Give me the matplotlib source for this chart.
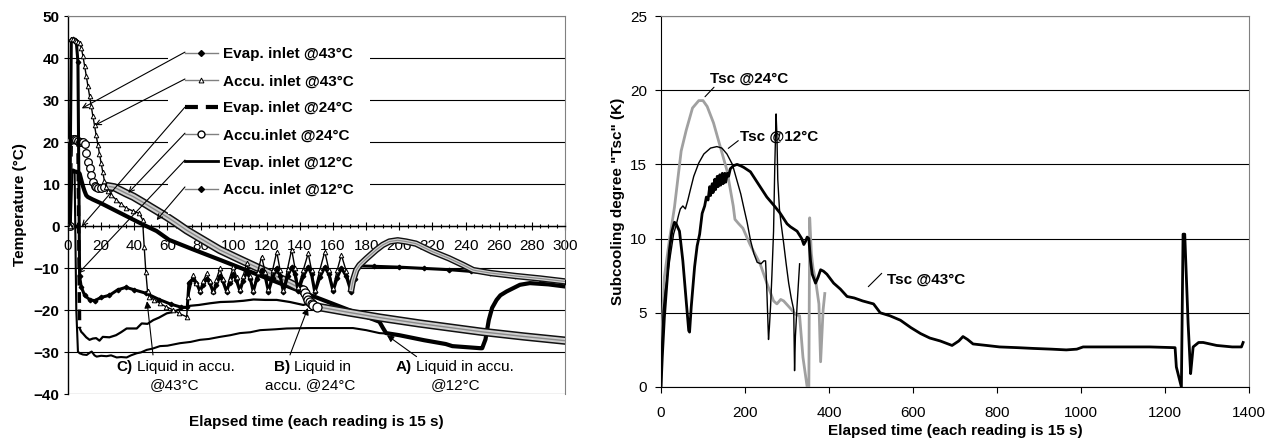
import matplotlib
matplotlib.use('Agg')
import matplotlib.pyplot as plt
from matplotlib.lines import Line2D
from matplotlib.ticker import MultipleLocator
import matplotlib.patheffects as pe

plt.rcParams['font.family'] = ['Liberation Sans', 'DejaVu Sans']
plt.rcParams['font.size'] = 11

# ---------------- left chart data (reading number, temperature °C) ----------------
evap43_t = [1, 2, 3, 4, 5, 6, 7, 8, 10, 13, 16, 20, 25, 30, 35, 40, 47, 55, 62, 68, 72,
            73, 75.6, 77.5, 79.7, 81.5, 83.7, 85.5, 87.7, 89.5, 91.7, 93.5, 95.7, 97.5, 99.8,
            101.5, 103.8, 105.5, 107.8, 110, 111.8, 114, 116.9, 119, 121, 123.5, 126, 128, 130,
            132.5, 135, 137, 139, 142, 145, 147, 149, 152, 155, 157.5, 160, 162.5, 165, 168, 171,
            173, 175, 185, 200, 215, 230, 243, 255, 270, 285, 300]
evap43_T = [0, 44.3, 44.5, 44.3, 44, 39, -12, -14.5, -16.5, -17.5, -17.8, -17, -16.5, -15.2, -14.6, -15.2, -16, -17.5, -18.6, -19.3, -19.4,
            -13.5, -12.5, -13.5, -15.6, -14, -12.5, -13.5, -15.8, -14, -12, -13.2, -15.6, -13.5, -11.5,
            -12.8, -15.5, -13.2, -11, -12.5, -15.6, -12.5, -10.5, -12, -15.6, -12.3, -10, -11.8, -15.7,
            -12, -9.8, -11.5, -15.5, -12, -9.8, -11.5, -15.8, -12.2, -9.8, -11.5, -15.5, -12.3, -10, -12, -15.8,
            -12.5, -9.5, -9.6, -9.8, -10.1, -10.4, -10.8, -11.3, -12, -12.6, -13.3]

accu43_t = [1, 2, 3, 4, 5, 6, 7, 8, 9, 10, 11, 12, 13, 14, 15, 16, 17, 18, 19, 20, 21, 22, 23, 24, 26, 29, 32, 35, 39, 43,
            45, 46, 47, 48, 49, 52, 55.5, 59, 63.6, 67, 71.6,
            72.6, 75.6, 77.5, 79.7, 81.5, 83.7, 85.5, 87.7, 89.5, 91.7, 93.5, 95.7, 97.5, 99.8, 101.8, 103.8,
            105.8, 107.8, 109.8, 111.8, 114.4, 116.9, 119, 121, 123.5, 126, 128, 130, 132.5, 135, 137, 139,
            142, 145, 147, 149, 152, 155, 157.5, 160, 162.5, 165, 168, 171,
            172, 174, 176, 180, 186, 190, 194, 199, 204, 210, 220, 230, 238.6, 244.6, 255, 270, 285, 300]
accu43_T = [0, 44.5, 44.5, 44.2, 44, 43.7, 43.5, 42.5, 40.5, 38.2, 35.8, 33.4, 31, 28.6, 26.2, 24, 21.6, 19.4, 17.2, 15, 12.8, 10.7, 9.2, 8.3, 7.4, 6.3, 5.2, 4.3, 3.6, 3.0,
            1.5, -5, -11, -15.5, -16.8, -17.6, -18.4, -19.2, -20, -20.8, -21.6,
            -17, -11.7, -13.5, -15.2, -13.2, -11.3, -13, -15.4, -12.8, -10.1, -12.5, -15.2, -12.5, -9.7, -12.2, -15,
            -11.8, -8.9, -12, -15.2, -11, -7.3, -11, -15.1, -10.5, -6.1, -10.5, -15.2, -10.2, -5.6, -10, -14.5,
            -10.5, -6.5, -10.5, -15.2, -10.5, -6.1, -10.5, -14.8, -10.5, -6.9, -10.8, -15.1,
            -13, -10.5, -9.3, -7.8, -5.7, -4.5, -3.7, -3.4, -3.7, -4.2, -6.1, -7.7, -9.3, -10.5, -11.2, -11.9, -12.5, -13.2]

evap24_t = [1, 2, 3, 4, 5, 6, 7, 8, 9, 11, 13, 15, 17, 19, 21, 25, 29, 32, 35.4, 41.5, 44.5, 48, 51.5, 55, 59.6,
            63, 67.6, 73.6, 79, 85.7, 92, 99.8, 106, 112, 119, 126, 134, 142, 145, 147, 150, 170, 188, 212, 250, 275, 300]
evap24_T = [0, 20.3, 20.6, 20.4, 20.2, 20, -24.3, -25.2, -25.6, -26.5, -27.1, -26.8, -26.7, -27.3, -26.4, -26.5, -26, -25.3, -24.4, -24.4, -23.2, -23.3, -22.4, -21.8, -20.8,
            -20.5, -19.8, -19, -18.8, -18.4, -18.1, -18, -17.8, -17.5, -17.6, -17.6, -18.1, -18.8, -18.5, -18.5, -19.2, -20.6, -21.8, -23.2, -25.2, -26.3, -27.3]

accu24_t = [1, 2, 3, 4, 5, 6, 7, 8, 9, 10, 11, 12, 13, 14, 15, 16, 17, 18, 20, 22, 25, 28, 31, 35, 39.4, 45, 49.5, 55,
            59.6, 65, 71.6, 79.7, 91.7, 104, 116, 130, 142, 143, 144, 145, 146, 147, 148, 150, 170, 188, 212, 250, 275, 300]
accu24_T = [0, 20.5, 20.7, 20.6, 20.4, 20.2, 20, 20.1, 19.9, 19.6, 17.3, 15.3, 13.7, 12.1, 10.5, 9.6, 9.2, 9, 9, 9.3, 9.4, 9.2, 8.6, 7.8, 7, 5.7, 4.6, 3.3,
            2.2, 0.8, -1, -2.9, -5.7, -8, -10.2, -12.8, -15.2, -16, -16.8, -17.5, -18, -18.5, -18.9, -19.2, -20.6, -21.8, -23.2, -25.2, -26.3, -27.3]

evap12_t = [1, 2, 3, 4, 5, 6, 7, 9, 11.3, 13, 14.3, 16, 17.3, 20, 23.3, 26, 29.4, 32, 35.4, 38, 41.5, 44, 47.5, 51, 55.5,
            60, 67.6, 74, 79.7, 85, 91.7, 98, 103.8, 110, 116, 125, 132, 145, 160, 172, 180, 188, 192,
            200, 215, 228, 232, 249, 250, 252, 254, 256, 258.7, 261, 264.7, 272.8, 278.8, 290, 300]
evap12_T = [0, 13, 13, 12.5, -20, -29.9, -30.3, -30.6, -30.7, -30.2, -29.9, -30.8, -31.1, -30.9, -31, -30.8, -31.3, -31.2, -31.3, -30.8, -30.3, -30.1, -29.5, -29.2, -28.6,
            -28.5, -27.9, -27.6, -27.1, -26.9, -26.4, -26, -25.5, -25.3, -24.8, -24.6, -24.4, -24.3, -24.3, -24.3, -24.8, -25.5, -25.6,
            -26, -27.2, -28.1, -28.6, -29.1, -29.1, -27, -22.4, -19.5, -17.6, -16.5, -15.6, -14, -13.6, -13.9, -14.4]

accu12_t = [1, 2, 3, 4, 5, 6, 7, 8, 9, 10, 11, 12, 15, 20, 25, 35, 45, 53.5, 61, 75, 92, 112, 142, 165, 188, 190, 192,
            200, 215, 228, 232, 249, 250, 252, 254, 256, 258.7, 261, 264.7, 272.8, 278.8, 290, 300]
accu12_T = [0, 13, 13.2, 13, 12.9, 12.8, 12.5, 11, 9.5, 8.3, 7.3, 6.9, 6.3, 5.4, 4.4, 2.4, 0.4, -1.2, -3.3, -5.5, -8.1, -11.2, -15.8, -19.3, -22.8, -24.2, -25.5,
            -26, -27.2, -28.1, -28.6, -29.1, -29.1, -27, -22.4, -19.5, -17.6, -16.5, -15.6, -14, -13.6, -13.9, -14.4]

legend_labels = ['Evap. inlet @43°C', 'Accu. inlet @43°C', 'Evap. inlet @24°C',
                 'Accu.inlet @24°C', 'Evap. inlet @12°C', 'Accu. inlet @12°C']

# ---------------- right chart data (reading number, subcooling K) ----------------
tsc43_t = [0, 3, 8, 14, 20, 26, 32, 36, 44, 52, 60, 66, 68, 72, 80, 86, 92, 98, 104, 108, 112, 116, 118, 122, 124, 128,
           130, 134, 136, 140, 142, 146, 148, 152, 154, 158, 161, 165, 172, 181, 190, 197, 213, 229, 252, 270, 284,
           300, 308, 324, 335, 340, 344, 348, 352, 356, 360, 368, 374, 380, 387, 395, 411, 427, 443, 460, 480, 506,
           522, 545, 570, 595, 618, 640, 665, 693, 709, 719, 730, 743, 775, 806, 850, 886, 930, 965, 990, 1005,
           1045, 1084, 1125, 1164, 1224, 1227, 1239, 1243, 1247, 1255, 1261, 1263, 1267, 1280, 1291, 1323, 1360, 1382, 1386]
tsc43_v = [0, 2, 4.7, 7, 9.2, 10.5, 11.1, 11.0, 10.5, 8.5, 5.8, 3.8, 3.7, 5.4, 8.1, 9.5, 10.3, 11.7, 12.2, 12.8, 12.6, 13.5, 12.9, 13.7, 13.1, 14.0,
           13.3, 14.2, 13.5, 14.3, 13.6, 14.4, 13.7, 14.4, 13.8, 14.4, 14.2, 14.7, 14.9, 15.0, 14.9, 14.8, 14.5, 13.8, 12.8, 12.2, 11.7,
           11.0, 10.8, 10.5, 10.0, 9.6, 9.8, 10.1, 10.0, 8.5, 7.6, 7.0, 7.4, 7.9, 7.8, 7.6, 7.0, 6.6, 6.1, 6.0, 5.8, 5.6,
           5.0, 4.8, 4.5, 4.0, 3.6, 3.3, 3.1, 2.8, 3.1, 3.4, 3.2, 2.9, 2.8, 2.7, 2.65, 2.6, 2.55, 2.5, 2.55, 2.7,
           2.7, 2.7, 2.7, 2.7, 2.65, 1.35, 0, 10.3, 10.3, 4.3, 0.9, 1.5, 2.7, 3.0, 3.0, 2.8, 2.7, 2.7, 3.0]

tsc12_t = [0, 2, 5, 10, 16, 22, 30, 36, 42, 46, 52, 58, 64, 70, 78, 90, 102, 118, 133, 145, 157, 170, 181, 190, 197, 205,
           213, 221, 229, 238, 245, 249, 252, 255, 256, 258, 261, 264, 268, 271, 274, 276, 278, 282, 286, 292, 298,
           304, 310, 316, 318, 320, 324, 330]
tsc12_v = [0, 3, 5.1, 6.5, 7.6, 8.8, 10.3, 10.9, 11.6, 12.0, 12.2, 12.0, 12.6, 13.3, 14.2, 15.1, 15.7, 16.1, 16.2, 16.1, 15.7, 15.0, 13.9, 13.0, 12.1, 11.1,
           9.9, 9.0, 8.4, 8.3, 8.5, 8.5, 6.5, 4.0, 3.2, 4.0, 5.5, 7.5, 10.5, 15.0, 18.4, 17.0, 14.0, 12.0, 11.0, 9.7, 8.3,
           7.0, 6.0, 5.2, 1.1, 3.4, 5.5, 8.3]

tsc24_t = [0, 3, 8, 20, 32, 48, 60, 75, 90, 100, 110, 125, 140, 157, 172, 176, 185, 195, 212, 236, 252, 268, 276, 285,
           292, 308, 320, 330, 338, 348, 352, 354, 358, 362, 368, 376, 380, 386, 390]
tsc24_v = [0, 4, 7.4, 9.9, 12.1, 15.9, 17.3, 18.8, 19.3, 19.3, 18.9, 17.8, 16.3, 14.6, 12.2, 11.3, 11.0, 10.7, 9.6, 8.3, 7.0, 5.8, 5.6, 5.9,
           5.8, 5.3, 4.9, 4.8, 2.0, 0, 0, 11.4, 9.0, 8.0, 7.2, 5.6, 1.7, 5.2, 6.3]

# ---------------- figure ----------------
fig = plt.figure(figsize=(12.73, 4.42), dpi=100)
ax1 = fig.add_axes([68 / 1273, 1 - 394 / 442, 497 / 1273, 378 / 442])
ax2 = fig.add_axes([661 / 1273, 1 - 387 / 442, 588 / 1273, 371 / 442])

GRAY = '#808080'

# ---- left chart curves ----
ax1.plot(evap12_t, evap12_T, color='black', lw=1.5, zorder=3)
ax1.plot(accu12_t, accu12_T, color='black', lw=3.0, zorder=3)
# Evap 24: dashed at the start, short dense segments afterwards
ax1.plot(evap24_t[:7], evap24_T[:7], color='black', lw=2.5, ls=(0, (3.1, 1.9)), zorder=3)
ax1.plot(evap24_t[6:], evap24_T[6:], color='black', lw=1.6, zorder=3)
# Accu 24 circles
n24 = accu24_t.index(25)
ax1.plot(accu24_t[:n24 + 1], accu24_T[:n24 + 1], color=GRAY, lw=1, marker='o', ms=5.5,
         mfc='white', mec='black', mew=0.9, zorder=4)
ax1.plot(accu24_t[n24:], accu24_T[n24:], color='#8a8a8a', lw=1.0, zorder=4,
         path_effects=[pe.Stroke(linewidth=6.0, foreground='#111111'),
                       pe.Stroke(linewidth=3.8, foreground='#cfcfcf'), pe.Normal()])
nB = accu24_t.index(142)
ax1.plot(accu24_t[nB:nB + 8], accu24_T[nB:nB + 8], ls='none', marker='o', ms=6.5,
         mfc='white', mec='black', mew=0.9, zorder=4)
# Evap 43 dots
ax1.plot(evap43_t, evap43_T, color='black', lw=2.2, marker='D', ms=2.3, mfc='black', mec='black', zorder=4)
# Accu 43 triangles
n43 = accu43_t.index(171)
ax1.plot(accu43_t[:n43 + 1], accu43_T[:n43 + 1], color='black', lw=1.0, marker='^', ms=3.3,
         mfc='white', mec='black', mew=0.7, zorder=5)
ax1.plot(accu43_t[n43:], accu43_T[n43:], color='#8a8a8a', lw=0.8, zorder=5,
         path_effects=[pe.Stroke(linewidth=4.6, foreground='#111111'),
                       pe.Stroke(linewidth=2.6, foreground='#d0d0d0'), pe.Normal()])

ax1.set_xlim(0, 300)
ax1.set_ylim(-40, 50)
ax1.xaxis.set_major_locator(MultipleLocator(20))
ax1.xaxis.set_minor_locator(MultipleLocator(5))
ax1.set_yticks(range(-40, 51, 10))
ax1.spines['bottom'].set_position(('data', 0))
ax1.spines['bottom'].set_linewidth(1.0)
ax1.spines['left'].set_linewidth(1.0)
for s in ('top', 'right'):
    ax1.spines[s].set_color(GRAY)
ax1.tick_params(axis='x', which='major', direction='inout', length=6, width=0.8, pad=6, labelsize=11)
ax1.tick_params(axis='x', which='minor', direction='inout', length=3.5, width=0.8)
ax1.tick_params(axis='y', direction='out', length=3, width=0.8, labelsize=11, pad=3)
for lbl in ax1.get_yticklabels():
    lbl.set_fontweight('bold')
ax1.grid(axis='y', color='black', lw=0.8)
ax1.set_axisbelow(True)
ax1.set_ylabel('Temperature (°C)', fontweight='bold', fontsize=11)
ax1.yaxis.set_label_coords(-0.0835, 0.5)
ax1.set_xlabel('Elapsed time (each reading is 15 s)', fontweight='bold', fontsize=11)
ax1.xaxis.set_label_coords(0.5, -0.055)

handles = [
    Line2D([], [], color=GRAY, lw=1, marker='D', ms=3, mfc='black', mec='black'),
    Line2D([], [], color=GRAY, lw=1, marker='^', ms=3.5, mfc='white', mec='black', mew=0.7),
    Line2D([], [], color='black', lw=3, ls=(0, (3.1, 1.9))),
    Line2D([], [], color=GRAY, lw=1, marker='o', ms=5, mfc='white', mec='black'),
    Line2D([], [], color='black', lw=2),
    Line2D([], [], color=GRAY, lw=1, marker='D', ms=3, mfc='black', mec='black'),
]
leg = ax1.legend(handles, legend_labels, loc='upper left', bbox_to_anchor=(0.2012, 0.962),
                 frameon=True, fancybox=False, framealpha=1, facecolor='white', edgecolor='none',
                 prop={'weight': 'bold', 'size': 11}, handlelength=2.15, handletextpad=0.33,
                 labelspacing=0.86, borderpad=1.1, borderaxespad=0, numpoints=1)
leg.set_zorder(6)

arrow_kw = dict(arrowstyle='->', color='black', lw=0.8, shrinkA=0, shrinkB=0, mutation_scale=9)
leg_arrows = [((70.6, 41.4), (8.3, 28.0)), ((70.6, 35.0), (16.3, 24.0)), ((70.6, 28.3), (8.3, -0.1)),
              ((70.6, 22.1), (36.4, 7.9)), ((70.6, 15.7), (6.2, -11.3)), ((70.6, 9.3), (53.5, 1.4))]
for start, end in leg_arrows:
    a = ax1.annotate('', xy=end, xytext=start, arrowprops=arrow_kw)
    a.set_zorder(7)

for start, end in [((51.3, -30.7), (47.7, -17.9)), ((134, -30.7), (144.8, -19.5)),
                   ((210.4, -31.1), (192.5, -26.0))]:
    ax1.annotate('', xy=end, xytext=start, arrowprops=dict(arrowstyle='-|>', color='black', lw=0.8,
                                                           shrinkA=0, shrinkB=0, mutation_scale=10))

y1, y2 = -33.57, -37.86
ax1.text(39.2, y1, 'C)', ha='right', va='center', fontweight='bold')
ax1.text(41.6, y1, 'Liquid in accu.', ha='left', va='center')
ax1.text(64.6, y2, '@43°C', ha='center', va='center')
ax1.text(134, y1, 'B)', ha='right', va='center', fontweight='bold')
ax1.text(136.4, y1, 'Liquid in', ha='left', va='center')
ax1.text(146, y2, 'accu. @24°C', ha='center', va='center')
ax1.text(207.6, y1, 'A)', ha='right', va='center', fontweight='bold')
ax1.text(210, y1, 'Liquid in accu.', ha='left', va='center')
ax1.text(234.2, y2, '@12°C', ha='center', va='center')

# ---- right chart ----
ax2.plot(tsc24_t, tsc24_v, color='#a0a0a0', lw=2.0, zorder=3)
ax2.plot(tsc12_t, tsc12_v, color='black', lw=1.0, zorder=4)
ax2.plot(tsc43_t, tsc43_v, color='black', lw=2.0, zorder=4)
ax2.set_xlim(0, 1400)
ax2.set_ylim(0, 25)
ax2.set_xticks(range(0, 1401, 200))
ax2.set_yticks(range(0, 26, 5))
ax2.grid(axis='y', color='black', lw=0.8)
ax2.set_axisbelow(True)
for s in ('top', 'right'):
    ax2.spines[s].set_color(GRAY)
ax2.tick_params(axis='x', direction='out', length=4, width=0.8, labelsize=11, pad=10)
ax2.tick_params(axis='y', direction='out', length=4, width=0.8, labelsize=11, pad=6)
ax2.set_ylabel('Subcooling degree "Tsc" (K)', fontweight='bold', fontsize=11)
ax2.yaxis.set_label_coords(-0.0612, 0.5)
ax2.set_xlabel('Elapsed time (each reading is 15 s)', fontweight='bold', fontsize=11)
ax2.xaxis.set_label_coords(0.5, -0.1)

line_kw = dict(arrowstyle='-', color='black', lw=0.8, shrinkA=0, shrinkB=0)
ax2.text(116.7, 20.8, 'Tsc @24°C', ha='left', va='center', fontweight='bold')
ax2.annotate('', xy=(126.2, 20.2), xytext=(104.8, 19.56), arrowprops=line_kw)
ax2.text(188, 16.87, 'Tsc @12°C', ha='left', va='center', fontweight='bold')
ax2.annotate('', xy=(184, 16.6), xytext=(160.2, 16.08), arrowprops=line_kw)
ax2.text(537, 7.2, 'Tsc @43°C', ha='left', va='center', fontweight='bold')
ax2.annotate('', xy=(525.5, 7.66), xytext=(493.6, 6.76), arrowprops=line_kw)

fig.savefig('out.png', dpi=100)
